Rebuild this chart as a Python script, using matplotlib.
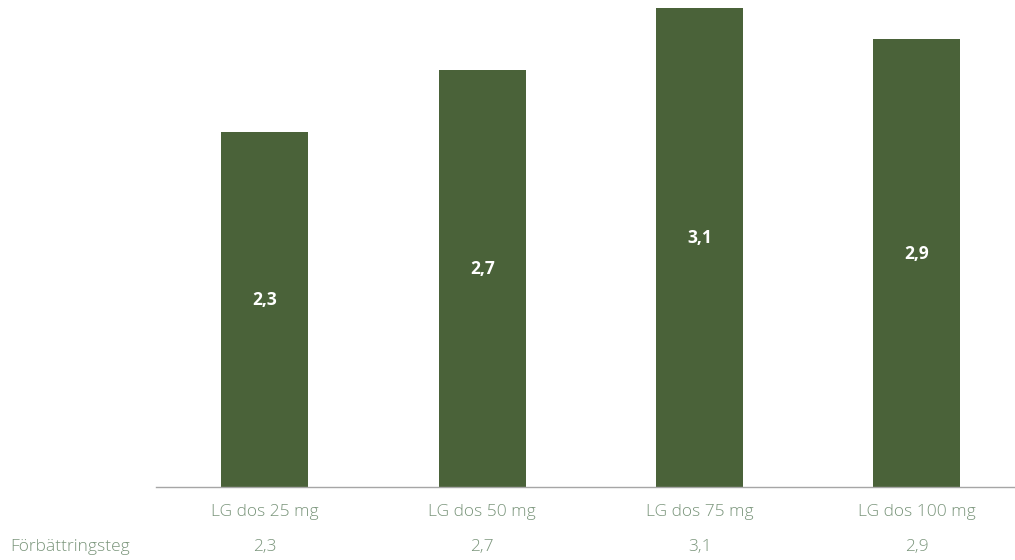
import matplotlib
matplotlib.use("Agg")
import matplotlib.pyplot as plt
import matplotlib.transforms as mtransforms

categories = ["LG dos 25 mg", "LG dos 50 mg", "LG dos 75 mg", "LG dos 100 mg"]
values = [2.3, 2.7, 3.1, 2.9]
labels = ["2,3", "2,7", "3,1", "2,9"]
row_title = "Förbättringsteg"

plt.rcParams['font.family'] = ['Open Sans', 'DejaVu Sans']

W, H = 1015, 560
fig = plt.figure(figsize=(W / 100, H / 100), dpi=100)
left = 156.3 / W
bottom = (H - 487) / H
ax = fig.add_axes([left, bottom, 869.3 / W, 487 / H])

bar_color = "#4a6239"
text_color = "#7a957b"
x = list(range(len(categories)))
ax.bar(x, values, width=0.4, color=bar_color, zorder=2)
ax.set_xlim(-0.5, 3.5)
ax.set_ylim(0, 3.152)

for xi, v, lab in zip(x, values, labels):
    ax.text(xi, v / 2 + 0.06, lab, ha="center", va="center", color="white",
            fontsize=12.5, fontweight="bold")

for s in ["top", "right", "left"]:
    ax.spines[s].set_visible(False)
ax.spines["bottom"].set_color("#a6a6a6")
ax.spines["bottom"].set_linewidth(1.0)
ax.set_xticks([])
ax.set_yticks([])

trans = mtransforms.blended_transform_factory(ax.transData, ax.transAxes)
for xi, c, lab in zip(x, categories, labels):
    ax.text(xi, -25 / 487, c, transform=trans, ha="center", va="center",
            color=text_color, fontsize=12.5, fontweight="light")
    ax.text(xi, -60 / 487, lab, transform=trans, ha="center", va="center",
            color=text_color, fontsize=12.5, fontweight="light")

fig.text(10 / W, (H - 547) / H, row_title, ha="left", va="center",
         color=text_color, fontsize=12.5, fontweight="light")

fig.savefig("out.png", dpi=100)
